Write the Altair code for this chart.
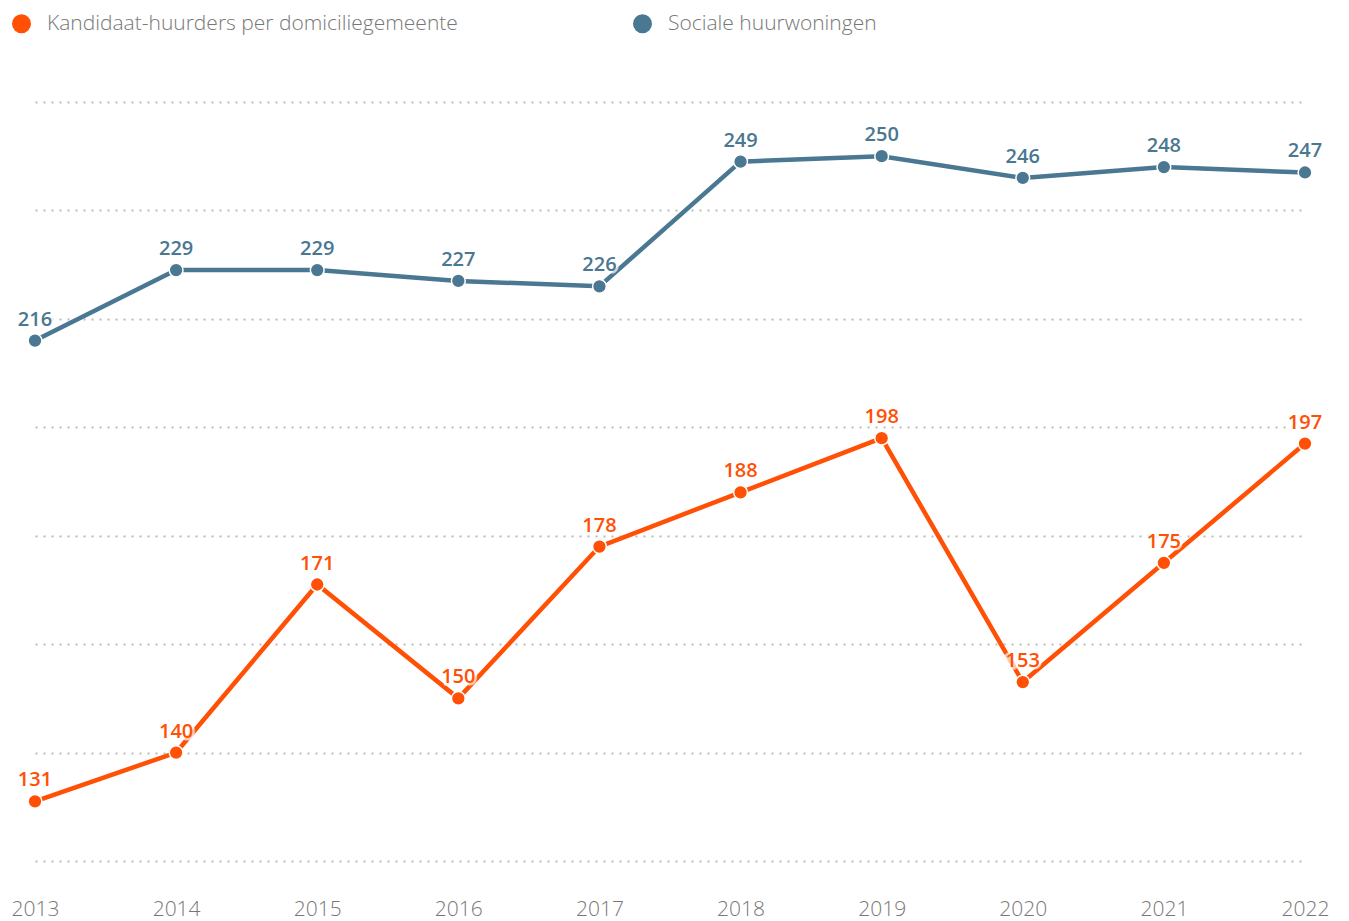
import altair as alt
import pandas as pd

years = [2013, 2014, 2015, 2016, 2017, 2018, 2019, 2020, 2021, 2022]
kandidaat = [131, 140, 171, 150, 178, 188, 198, 153, 175, 197]
sociaal = [216, 229, 229, 227, 226, 249, 250, 246, 248, 247]
series_names = ["Kandidaat-huurders per domiciliegemeente", "Sociale huurwoningen"]
series_colors = ["#FF5005", "#4A7791"]
grid_values = [120, 140, 160, 180, 200, 220, 240, 260]

rows = []
for y, v in zip(years, kandidaat):
    rows.append({"jaar": y, "waarde": v, "reeks": series_names[0]})
for y, v in zip(years, sociaal):
    rows.append({"jaar": y, "waarde": v, "reeks": series_names[1]})
df = pd.DataFrame(rows)

FONT = "Open Sans"

x = alt.X("jaar:Q", scale=alt.Scale(domain=[2013, 2022], nice=False, zero=False),
          axis=alt.Axis(values=years, format="d", title=None, grid=False, domain=False,
                        ticks=False, labelPadding=37, labelFontSize=21, labelColor="#777777",
                        labelFont=FONT, labelFontWeight=300, labelFlush=False))
y = alt.Y("waarde:Q", scale=alt.Scale(domain=[120, 260], nice=False, zero=False),
          axis=alt.Axis(values=grid_values, title=None, labels=False, domain=False, ticks=False,
                        grid=True, gridColor="#BBBBBB", gridDash=[2, 6], gridWidth=2.2))
color = alt.Color("reeks:N", scale=alt.Scale(domain=series_names, range=series_colors),
                  legend=alt.Legend(title=None, orient="none", legendX=-24, legendY=-89,
                                    direction="horizontal", symbolType="circle", symbolSize=360,
                                    symbolStrokeWidth=0, labelFontSize=21, labelFont=FONT,
                                    labelFontWeight=300, labelColor="#777777", labelOffset=15,
                                    columnPadding=174, labelLimit=600))

base = alt.Chart(df)
line = base.mark_line(strokeWidth=4.5).encode(x=x, y=y, color=color)
halo = base.mark_text(dy=-21, fontSize=20, fontWeight=600, font=FONT, stroke="white",
                      strokeWidth=5, strokeOpacity=0.7, fill="white", fillOpacity=0.7).encode(
    x=x, y=y, text="waarde:Q")
pts = base.mark_point(filled=True, size=190, opacity=1, stroke="white", strokeWidth=1.5).encode(
    x=x, y=y, color=alt.Color("reeks:N", scale=alt.Scale(domain=series_names, range=series_colors), legend=None),
    fill=alt.Fill("reeks:N", scale=alt.Scale(domain=series_names, range=series_colors), legend=None))
labels = base.mark_text(dy=-21, fontSize=20, fontWeight=600, font=FONT).encode(
    x=x, y=y, text="waarde:Q",
    color=alt.Color("reeks:N", scale=alt.Scale(domain=series_names, range=series_colors), legend=None))

chart = alt.layer(line, halo, pts, labels).properties(
    width=1270, height=759,
    autosize=alt.AutoSizeParams(type="none"),
    padding={"left": 35, "top": 102, "right": 44, "bottom": 60},
).configure_view(stroke=None)

chart.save("out.html", embed_options={"renderer": "svg", "actions": False})
